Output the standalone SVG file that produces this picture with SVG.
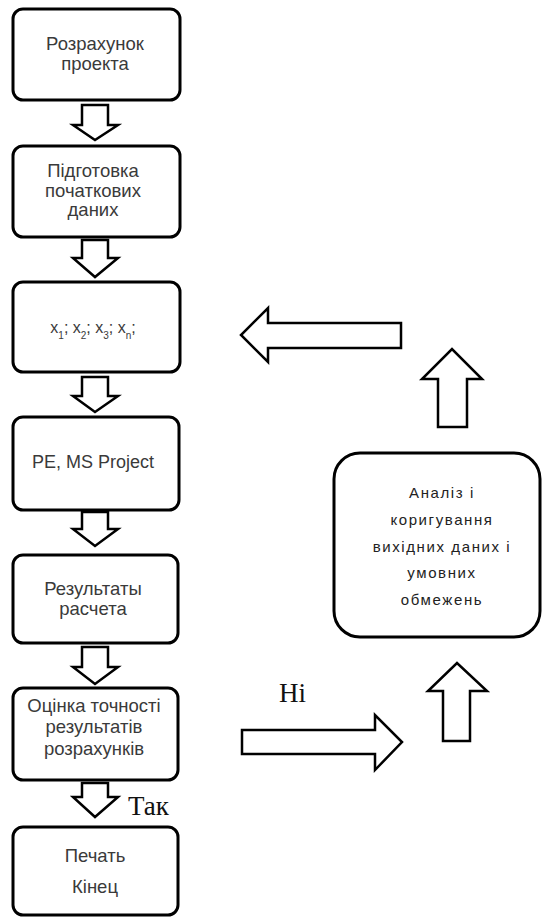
<svg xmlns="http://www.w3.org/2000/svg" width="544" height="918" viewBox="0 0 544 918">
<style>
.box{fill:#fff;stroke:#000;stroke-width:3}
.arr{fill:#fff;stroke:#000;stroke-width:2.5;stroke-linejoin:miter}
.t{font-family:"Liberation Sans",Arial,sans-serif;font-size:18.5px;fill:#3a3a3a;text-anchor:middle}
.tr{font-family:"Liberation Sans",Arial,sans-serif;font-size:15px;fill:#222;text-anchor:middle;letter-spacing:1.6px}
.lbl{font-family:"Liberation Serif","Times New Roman",serif;font-size:27px;fill:#111}
</style>
<rect width="544" height="918" fill="#fff"/>
<g id="n1"><rect class="box" x="13" y="9" width="167" height="91" rx="10"/>
<text class="t" x="95" y="50">Розрахунок</text><text class="t" x="95" y="70">проекта</text></g>
<g id="n2"><rect class="box" x="13" y="146" width="167" height="91" rx="10"/>
<text class="t" x="93" y="177">Підготовка</text><text class="t" x="93" y="197">початкових</text><text class="t" x="93" y="216">даних</text></g>
<g id="n3"><rect class="box" x="13" y="282" width="167" height="90" rx="10"/>
<text class="t" x="93" y="333" style="font-size:16px">x<tspan baseline-shift="sub" font-size="10">1</tspan>; x<tspan baseline-shift="sub" font-size="10">2</tspan>; x<tspan baseline-shift="sub" font-size="10">3</tspan>; x<tspan baseline-shift="sub" font-size="10">n</tspan>;</text></g>
<g id="n4"><rect class="box" x="13" y="417" width="166" height="93" rx="10"/>
<text class="t" x="93" y="468" style="font-size:18px">PE, MS Project</text></g>
<g id="n5"><rect class="box" x="13" y="555" width="165" height="88" rx="10"/>
<text class="t" x="93" y="595">Результаты</text><text class="t" x="93" y="615">расчета</text></g>
<g id="n6"><rect class="box" x="13" y="688" width="165" height="92" rx="10"/>
<text class="t" x="94" y="712">Оцінка точності</text><text class="t" x="94" y="733">результатів</text><text class="t" x="94" y="755">розрахунків</text></g>
<g id="n7"><rect class="box" x="13" y="827" width="165" height="88" rx="10"/>
<text class="t" x="95" y="862">Печать</text><text class="t" x="95" y="893">Кінец</text></g>
<g id="n8"><rect class="box" x="334" y="453" width="206" height="184" rx="26"/>
<text class="tr" x="442" y="498">Аналіз і</text><text class="tr" x="442" y="525">коригування</text><text class="tr" x="442" y="552">вихідних даних і</text><text class="tr" x="442" y="578">умовних</text><text class="tr" x="442" y="605">обмежень</text></g>
<g id="connectors">
<polygon class="arr" points="82,105 108,105 108,125 118,125 95,140 73,125 82,125"/>
<polygon class="arr" points="82,240 108,240 108,258 118,258 95,277 73,258 82,258"/>
<polygon class="arr" points="82,377 108,377 108,396 118,396 95,412 73,396 82,396"/>
<polygon class="arr" points="82,512 108,512 108,529 118,529 95,546 73,529 82,529"/>
<polygon class="arr" points="82,647 108,647 108,667 118,667 95,684 73,667 82,667"/>
<polygon class="arr" points="82,783 108,783 108,797 118,797 95,817 73,797 82,797"/>
<polygon class="arr" points="401,323 268,323 268,308 241,335 268,362 268,348 401,348"/>
<polygon class="arr" points="438,427 438,379 422,379 452,349 482,379 467,379 467,427"/>
<polygon class="arr" points="443,741 443,691 428,691 457,663 487,691 470,691 470,741"/>
<polygon class="arr" points="242,730 375,730 375,715 402,742 375,770 375,754 242,754"/>
<text class="lbl" x="128" y="815">Так</text>
<text class="lbl" x="279" y="702">Ні</text>
</g>
</svg>
